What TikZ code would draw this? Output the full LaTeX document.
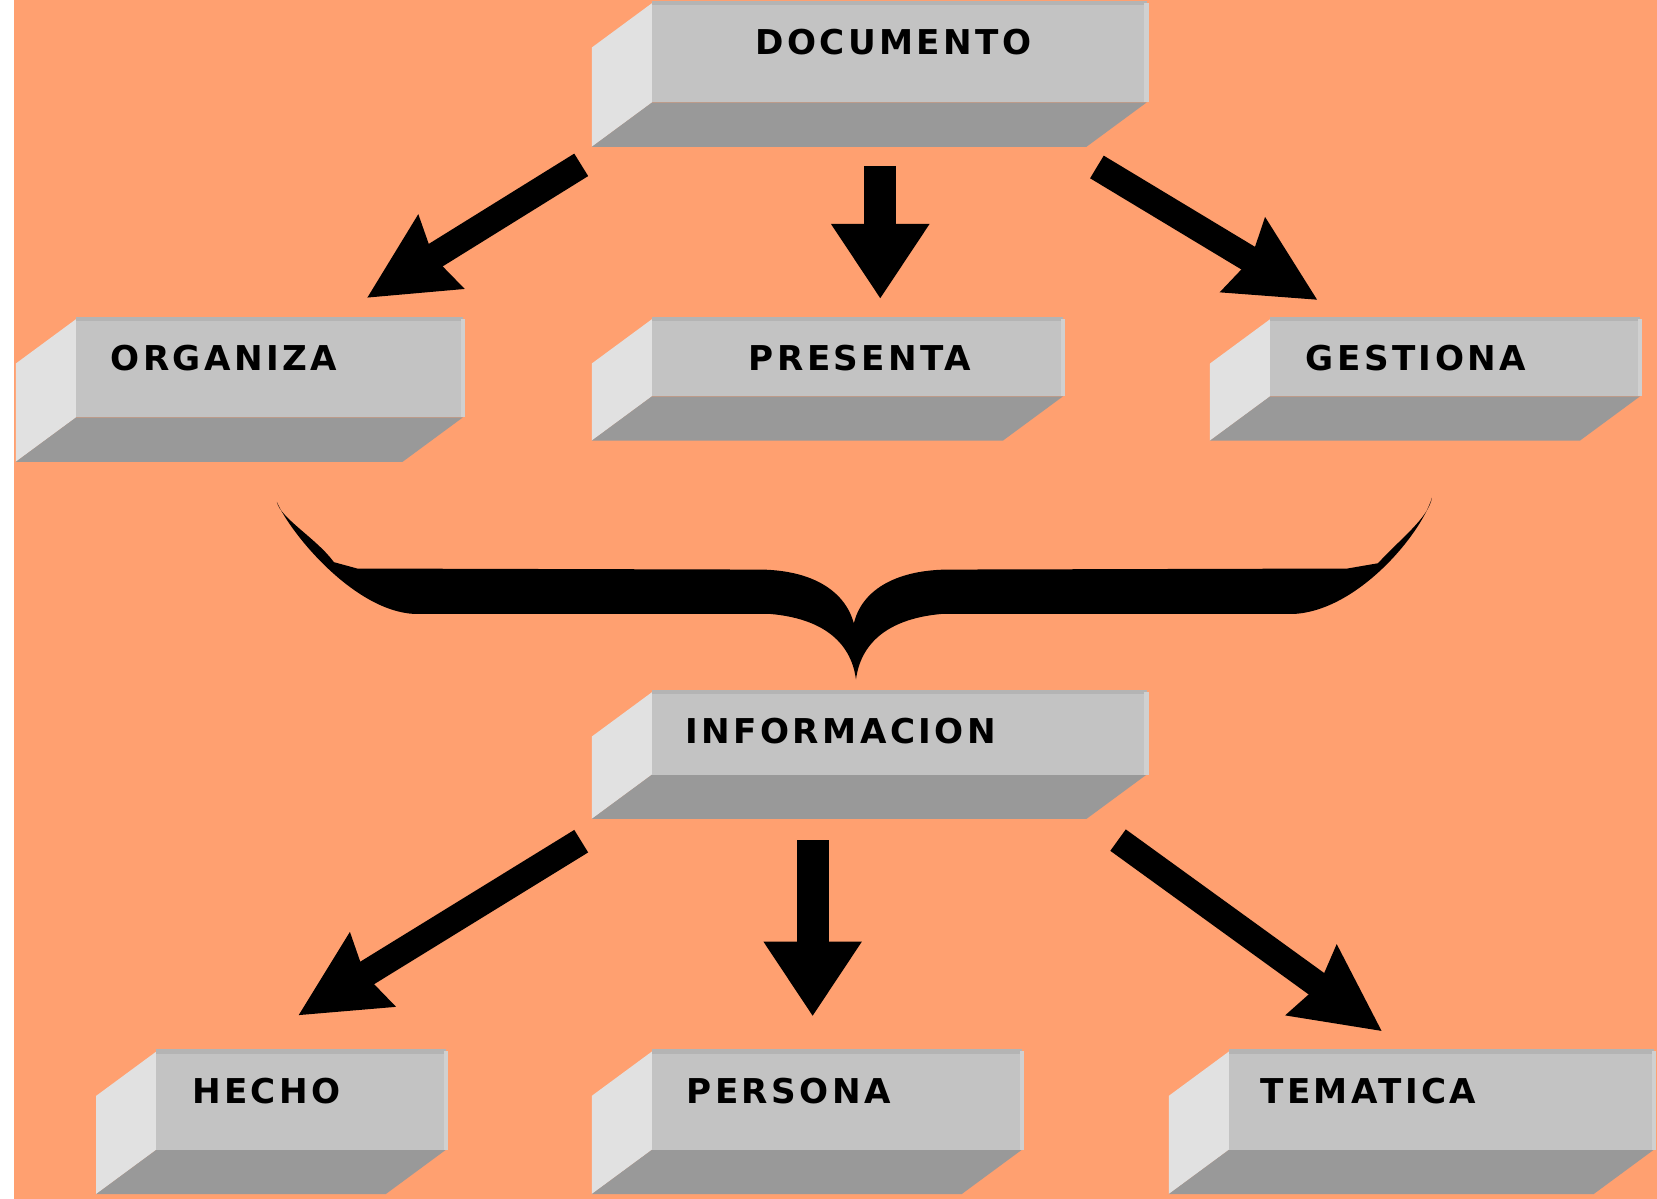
\documentclass[tikz,border=0pt]{standalone}
\usepackage{fontspec}
\newfontfamily\boxfont{DejaVu Sans}[LetterSpace=10]
\usetikzlibrary{arrows.meta}
\definecolor{bgorange}{RGB}{255,160,112}
\definecolor{frontc}{RGB}{195,195,195}
\definecolor{leftc}{RGB}{225,225,225}
\definecolor{bottomc}{RGB}{153,153,153}
\definecolor{topedge}{RGB}{180,180,180}
\definecolor{rightedge}{RGB}{208,208,208}
\newcommand\caja[7]{%
  \fill[leftc] (#2,#3) -- (#2,#5) -- ([shift={(-57,42)}]#2,#5) -- ([shift={(-57,42)}]#2,#3) -- cycle;
  \fill[bottomc] (#2,#5) -- (#4,#5) -- ([shift={(-57,42)}]#4,#5) -- ([shift={(-57,42)}]#2,#5) -- cycle;
  \fill[frontc] (#2,#3) rectangle (#4,#5);
  \draw[topedge, line width=0.04cm] (#2,#3) -- (#4,#3);
  \draw[rightedge, line width=0.04cm] (#4,#3) -- (#4,#5);
  \node[lbl] (#1) at (#6,{#3+49}) {#7};
}
\tikzset{
  lbl/.style={anchor=base west, inner sep=0pt, font=\boxfont\bfseries\fontsize{9.2}{10}\selectfont},
  diagconn/.style={line width=0.25cm, -{Stealth[length=0.81cm, width=0.78cm, inset=0.07cm]}},
  vertconn/.style={line width=0.30cm, -{Stealth[length=0.71cm, width=0.88cm, inset=0cm]}},
}
\begin{document}
\begin{tikzpicture}[x=0.01cm, y=-0.01cm]
\useasboundingbox (0,0) rectangle (1568,1134.6);
\fill[white] (0,0) rectangle (1568,1134.6);
\fill[bgorange] (13,0) rectangle (1568,1134.6);

\caja{doc}{617}{3}{1085}{97}{714}{DOCUMENTO}
\caja{org}{72}{302}{438}{395}{104}{ORGANIZA}
\caja{pre}{617}{302}{1006}{375}{708}{PRESENTA}
\caja{ges}{1202}{302}{1552}{375}{1235}{GESTIONA}
\caja{inf}{617}{655}{1085}{733}{648}{INFORMACION}
\caja{hec}{148}{995}{422}{1088}{181}{HECHO}
\caja{per}{617}{995}{967}{1088}{649}{PERSONA}
\caja{tem}{1163}{995}{1565}{1088}{1192}{TEMATICA}

% arrow end points
\coordinate (a1s) at (550,156);  \coordinate (a1e) at (347,282);
\coordinate (a2s) at (833,157);  \coordinate (a2e) at (833,283);
\coordinate (a3s) at (1038,158); \coordinate (a3e) at (1247,284);
\coordinate (a4s) at (550,796);  \coordinate (a4e) at (282,961);
\coordinate (a5s) at (769,795);  \coordinate (a5e) at (769,962);
\coordinate (a6s) at (1058,795); \coordinate (a6e) at (1308,976);

\draw[diagconn] (a1s) -- (a1e);
\draw[vertconn] (a2s) -- (a2e);
\draw[diagconn] (a3s) -- (a3e);
\draw[diagconn] (a4s) -- (a4e);
\draw[vertconn] (a5s) -- (a5e);
\draw[diagconn] (a6s) -- (a6e);

% big brace
\fill[black] (262,475) .. controls (275,505) and (335,578) .. (392,581)
 -- (729,581) .. controls (775,585) and (805,605) .. (810,643)
 .. controls (815,605) and (845,585) .. (891,581)
 -- (1224,581) .. controls (1285,578) and (1345,505) .. (1355,471)
 .. controls (1352,490) and (1325,510) .. (1304,533) -- (1275,538)
 -- (895,539) .. controls (845,540) and (815,560) .. (808,590)
 .. controls (800,560) and (770,540) .. (721,539)
 -- (338,538) -- (316,532) .. controls (300,510) and (265,490) .. (262,475) -- cycle;
\end{tikzpicture}
\end{document}
